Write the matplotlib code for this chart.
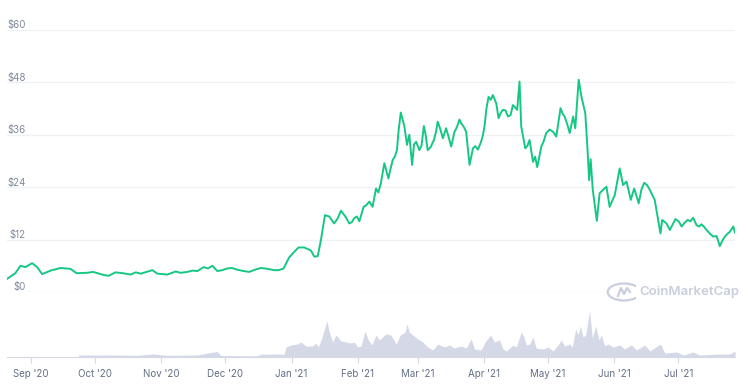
import numpy as np
import matplotlib
matplotlib.use("Agg")
import matplotlib.pyplot as plt
import matplotlib.dates as mdates
from matplotlib.patches import Circle
from matplotlib.lines import Line2D

# days counted from 2020-09-01
start_date = np.datetime64("2020-09-01")

price_days = [-11.3, -7.4, -5.0, -2.7, 0.5, 2.8, 5.2, 9.1, 13.7, 18.4,
              21.3, 26.3, 29.0, 32.5, 34.0, 36.3, 39.5, 43.0, 46.6, 49.0,
              51.3, 54.0, 56.8, 59.1, 63.8, 67.7, 70.0, 73.2, 75.5, 77.9,
              80.8, 82.8, 84.9, 87.2, 89.5, 91.9, 94.0, 96.6, 99.5, 102.1,
              104.8, 107.6, 110.7, 113.8, 116.0, 118.2, 120.8, 123.2, 125.2, 127.9,
              131.0, 132.6, 134.2, 135.7, 137.6, 139.6, 141.9, 143.5, 145.1, 147.0,
              149.0, 150.2, 151.3, 152.5, 153.7, 155.7, 157.0, 158.4, 159.9, 161.5,
              162.6, 163.8, 165.4, 166.3, 167.3, 168.3, 169.3, 170.3, 171.3, 172.1,
              173.1, 174.8, 176.0, 177.1, 178.4, 179.3, 180.3, 181.8, 182.8, 183.9,
              184.8, 185.7, 187.1, 188.6, 189.5, 190.4, 191.6, 192.8, 194.3, 195.5,
              196.7, 198.2, 199.4, 200.6, 201.4, 202.5, 203.7, 205.3, 206.9, 208.0,
              209.2, 210.7, 211.5, 212.3, 213.2, 214.2, 215.2, 216.2, 217.8, 218.9,
              219.9, 220.9, 222.1, 223.3, 224.5, 225.6, 226.6, 227.6, 228.7, 229.5,
              230.4, 231.4, 232.4, 233.4, 235.0, 236.0, 237.0, 238.9, 240.0, 241.2,
              242.8, 244.4, 245.9, 247.9, 248.9, 249.8, 251.0, 252.2, 253.8, 254.8,
              256.4, 257.7, 259.5, 260.5, 261.3, 262.0, 263.0, 264.9, 266.2, 267.8,
              269.4, 270.9, 273.3, 275.6, 277.2, 278.8, 280.8, 282.4, 283.5, 284.5,
              285.8, 287.1, 288.4, 289.7, 290.8, 292.0, 294.7, 295.5, 297.5, 299.1,
              301.7, 303.2, 304.6, 305.9, 307.4, 308.7, 310.0, 311.6, 312.8, 313.9,
              315.0, 316.3, 317.8, 319.4, 321.0, 322.5, 323.7, 324.9, 326.0, 327.2,
              328.8, 329.6]
price_usd = [3.0, 4.3, 6.0, 5.7, 6.6, 5.7, 4.1, 4.9, 5.5, 5.3,
             4.3, 4.4, 4.6, 4.1, 3.9, 3.7, 4.5, 4.3, 4.0, 4.5,
             4.2, 4.6, 5.0, 4.2, 4.0, 4.7, 4.4, 4.6, 4.9, 4.8,
             5.7, 5.4, 6.0, 4.8, 5.0, 5.4, 5.5, 5.1, 4.8, 4.6,
             5.1, 5.5, 5.3, 5.0, 5.0, 5.4, 7.9, 9.2, 10.2, 10.2,
             9.5, 8.1, 8.2, 11.9, 17.6, 17.3, 15.7, 16.8, 18.6, 17.4,
             15.7, 16.0, 16.9, 17.3, 16.2, 19.5, 19.9, 20.7, 19.5, 23.7,
             22.8, 25.0, 29.5, 27.8, 26.0, 28.2, 30.2, 31.0, 32.5, 37.1,
             41.1, 37.9, 33.7, 36.0, 29.1, 33.8, 34.4, 32.5, 33.5, 38.0,
             35.8, 32.5, 33.2, 34.8, 36.5, 39.0, 37.3, 35.2, 37.5, 35.5,
             33.3, 36.6, 37.8, 39.5, 38.6, 37.9, 36.7, 29.1, 32.9, 33.4,
             32.6, 34.4, 35.8, 37.9, 42.0, 44.7, 44.0, 45.1, 43.2, 39.8,
             41.0, 41.7, 41.6, 40.2, 40.5, 42.8, 42.3, 41.7, 48.2, 37.9,
             35.5, 32.9, 33.5, 34.8, 29.8, 31.0, 28.6, 33.3, 34.5, 36.4,
             37.2, 36.7, 35.6, 42.1, 40.8, 40.2, 38.5, 36.4, 40.2, 37.5,
             48.6, 44.7, 40.9, 33.0, 25.6, 30.4, 23.4, 16.3, 22.6, 23.4,
             24.1, 19.5, 22.2, 28.3, 24.5, 25.3, 21.1, 23.7, 22.0, 20.3,
             23.5, 25.0, 24.5, 23.4, 22.3, 21.1, 13.4, 16.5, 15.7, 14.2,
             16.7, 16.2, 15.0, 15.8, 16.5, 16.2, 17.0, 15.3, 15.0, 15.5,
             15.0, 14.2, 13.4, 12.7, 12.8, 10.5, 11.8, 12.7, 13.3, 13.8,
             15.0, 13.6]

volume_days = [-11.3, 22.0, 22.3, 37.2, 48.0, 49.9, 56.8, 63.8, 77.9, 82.6,
               87.2, 88.8, 106.0, 107.6, 118.5, 119.3, 121.6, 124.8, 126.3, 128.7,
               131.8, 133.4, 134.4, 136.0, 137.2, 138.5, 139.6, 141.2, 142.7, 145.1,
               147.4, 149.8, 151.3, 152.9, 154.5, 156.3, 157.9, 159.5, 161.5, 163.0,
               164.6, 166.2, 168.5, 170.9, 172.9, 175.1, 176.0, 177.1, 178.7, 181.1,
               183.4, 185.7, 188.1, 190.4, 193.5, 195.9, 198.2, 201.4, 203.7, 206.1,
               207.6, 210.7, 212.6, 215.1, 217.0, 219.3, 220.9, 222.5, 225.6, 227.2,
               229.5, 230.6, 231.9, 233.4, 235.0, 236.5, 239.7, 242.0, 244.4, 246.7,
               248.3, 249.8, 252.2, 253.4, 255.0, 256.1, 257.2, 258.4, 259.7, 261.5,
               262.8, 264.4, 265.9, 267.0, 268.6, 270.2, 272.5, 275.6, 277.9, 281.1,
               283.4, 287.3, 289.7, 294.7, 296.7, 302.2, 305.4, 310.0, 313.1, 322.5,
               327.2, 329.6]
volume_rel = [0, 0, 2, 2, 1.7, 1.7, 3, 1.7, 2, 4,
              5.5, 1.5, 1.2, 2.8, 3, 10, 12, 13, 15, 11,
              11, 14, 10, 18, 27, 36, 25, 15, 22, 16,
              15, 14, 15, 10, 11, 26, 17, 12, 22, 17,
              20, 23, 22, 13, 22, 25, 33, 25, 22, 18,
              15, 10, 7, 13, 10, 12, 9, 11, 9, 18,
              8, 7, 15, 22, 15, 17, 8, 6, 12, 10,
              25, 21, 12, 13, 20, 9, 8, 10, 6, 12,
              17, 11, 13, 10, 28, 22, 31, 20, 22, 46,
              19, 31, 17, 22, 11, 13, 10, 12, 8, 12,
              7, 12, 6, 13, 4, 5, 2, 5, 2, 3,
              3, 6]

month_ticks = ["2020-09-01", "2020-10-01", "2020-11-01", "2020-12-01", "2021-01-01",
               "2021-02-01", "2021-03-01", "2021-04-01", "2021-05-01", "2021-06-01",
               "2021-07-01"]
month_labels = ["Sep '20", "Oct '20", "Nov '20", "Dec '20", "Jan '21", "Feb '21",
                "Mar '21", "Apr '21", "May '21", "Jun '21", "Jul '21"]
price_ticks = [0, 12, 24, 36, 48, 60]

plt.rcParams['font.family'] = ['Inter', 'DejaVu Sans']

base = mdates.date2num(start_date)
px = base + np.array(price_days)
vx = base + np.array(volume_days)
tick_x = [mdates.date2num(np.datetime64(t)) for t in month_ticks]

W, H = 748, 391
fig = plt.figure(figsize=(W / 100, H / 100), dpi=100)
left, right = 7, 735

ax = fig.add_axes([left / W, (H - 292) / H, (right - left) / W, 262 / H])
axv = fig.add_axes([left / W, (H - 357) / H, (right - left) / W, 57 / H], sharex=ax)

# price
ax.plot(px, price_usd, color="#16c784", lw=1.4, solid_joinstyle="round", zorder=3)
ax.set_ylim(0, 60)
ax.set_xlim(px[0], px[-1])
ax.set_yticks(price_ticks)
ax.grid(axis="y", color="#eff2f5", lw=1)
ax.tick_params(left=False, bottom=False, labelleft=False, labelbottom=False)
for s in ax.spines.values():
    s.set_visible(False)
for v in price_ticks:
    ax.annotate(f"${v}", xy=(0.026, v), xycoords=("axes fraction", "data"),
                xytext=(0, 1.2), textcoords="offset points", ha="right", va="baseline",
                fontsize=7, color="#808a9d")

# volume
axv.fill_between(vx, volume_rel, 0, color="#d5d9e7", lw=0)
axv.set_ylim(0, 57)
axv.set_xticks(tick_x)
axv.set_xticklabels(month_labels)
axv.tick_params(axis="x", length=4.5, width=0.8, color="#d5d9e5", pad=4,
                labelsize=7, labelcolor="#616e85")
axv.tick_params(left=False, labelleft=False)
for s in ["top", "left", "right"]:
    axv.spines[s].set_visible(False)
axv.spines["bottom"].set_color("#d5d9e5")
axv.spines["bottom"].set_linewidth(0.8)
axv.patch.set_alpha(0)

# watermark
wm = "#c8cedc"
fig.text(639 / W, 1 - 292 / H, "CoinMarketCap", ha="left", va="center", fontsize=9.5,
         fontweight="semibold", color=wm,
         bbox=dict(boxstyle="square,pad=0.25", fc="white", ec="none"))
fig.patches.append(Circle((624 / W, 1 - 292 / H), 8.5 / H, transform=fig.transFigure,
                          fill=True, fc="white", ec=wm, lw=1.6))
mx = np.array([618, 621, 624, 627, 630]) / W
my = 1 - np.array([296, 288, 294, 288, 292]) / H
fig.lines.append(Line2D(mx, my, transform=fig.transFigure, color=wm, lw=1.6))

fig.savefig("out.png", dpi=100)
